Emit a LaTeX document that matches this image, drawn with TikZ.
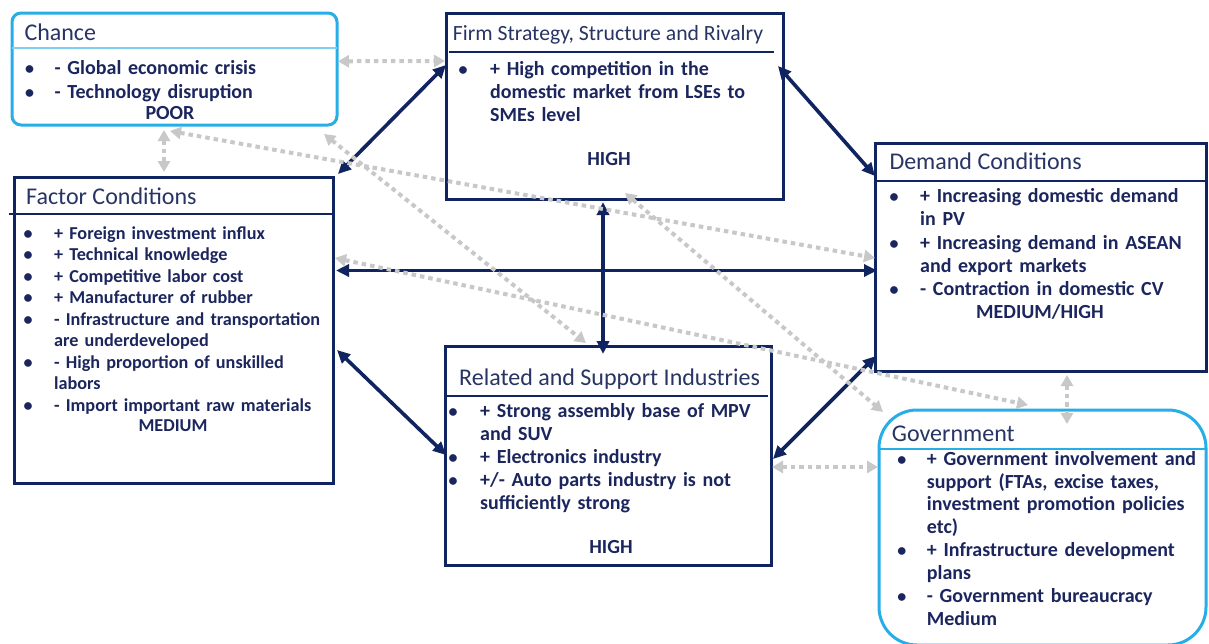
\documentclass[tikz,border=0pt]{standalone}
\usepackage{fontspec}
\setmainfont{Carlito}
\usetikzlibrary{arrows.meta,calc}

\definecolor{navy}{RGB}{16,36,96}
\definecolor{inkblue}{RGB}{28,38,94}
\definecolor{headblue}{RGB}{40,52,100}
\definecolor{sky}{RGB}{40,174,230}
\definecolor{palesky}{RGB}{125,208,242}
\definecolor{dotgray}{RGB}{200,200,200}

% bullet item with hanging indent; \bulind is the gap from bullet centre to text
\newlength\bulind
\newcommand\bul[1]{\par\noindent\hangindent=\bulind\hangafter=1
  \makebox[\bulind][l]{\makebox[0pt]{\fontsize{18}{18}\selectfont •}\rule{0pt}{16pt}}#1\par}

\tikzset{
  navybox/.style={draw=navy, line width=3pt, fill=white, outer sep=0pt, inner sep=0pt, anchor=north west},
  skybox/.style={draw=sky, line width=3pt, fill=white, outer sep=0pt, inner sep=0pt, anchor=north west},
  sepnavy/.style={draw=navy, line width=1.5pt},
  sepsky/.style={draw=sky, line width=1.5pt},
  seppale/.style={draw=palesky, line width=1.8pt},
  heading/.style={anchor=base west, inner sep=0pt, text=headblue, font=\fontsize{24}{28}\selectfont},
  bullets/.style={anchor=north west, inner sep=0pt, text width=330pt, align=left, text=inkblue,
    font=\bfseries\fontsize{20}{#1}\selectfont},
  grade/.style={anchor=base, inner sep=0pt, text=inkblue, font=\bfseries\fontsize{20}{24}\selectfont},
  bigarrow/.style={draw=navy, line width=3.6pt,
    {Triangle[length=13pt,width=12pt]}-{Triangle[length=13pt,width=12pt]}},
  dotarrow/.style={draw=dotgray, line width=4pt, dash pattern=on 4.5pt off 4pt,
    {Triangle[length=11pt,width=12pt]}-{Triangle[length=11pt,width=12pt]}}
}

\begin{document}
\begin{tikzpicture}[x=1pt,y=-1pt]
\useasboundingbox (0,0) rectangle (1209,643);
\clip (0,0) rectangle (1209,643);
\fill[white] (0,0) rectangle (1209,643);

% ---- boxes ----
\node[skybox, rounded corners=9pt, minimum width=325pt, minimum height=112pt] (chance) at (12,13) {};
\node[navybox, minimum width=337pt, minimum height=186pt] (firm) at (446,13) {};
\node[navybox, minimum width=331pt, minimum height=228pt] (demand) at (875,143) {};
\node[navybox, minimum width=319pt, minimum height=306pt] (factor) at (14,177) {};
\node[navybox, minimum width=326pt, minimum height=219pt] (related) at (445,346) {};
\node[skybox, rounded corners=38pt, minimum width=327pt, minimum height=235pt] (gov) at (879,410) {};

% ---- heading rules ----
\draw[seppale] ($(chance.north west)+(0,35)$) -- ($(chance.north east)+(0,35)$);
\draw[sepnavy] ($(firm.north west)+(3,39)$) -- ($(firm.north east)+(-9,39)$);
\draw[sepnavy] ($(demand.north west)+(0,38)$) -- ($(demand.north east)+(-1,38)$);
\draw[sepnavy] ($(factor.north west)+(-5,37)$) -- ($(factor.north east)+(0,37)$);
\draw[sepnavy] ($(related.north west)+(2,50)$) -- ($(related.north east)+(-3,50)$);
\draw[sepsky] ($(gov.north west)+(0,39)$) -- ($(gov.north east)+(0,39)$);

% ---- headings ----
\node[heading] (chance-title) at (24.3,40.7) {Chance};
\node[heading, font=\fontsize{21.7}{26}\selectfont] (firm-title) at (452.7,40.7) {Firm Strategy, Structure and Rivalry};
\node[heading] (demand-title) at (889.3,169.3) {Demand Conditions};
\node[heading] (factor-title) at (26,204.3) {Factor Conditions};
\node[heading] (related-title) at (459,385) {Related and Support Industries};
\node[heading] (gov-title) at (891.7,441) {Government};

% ---- lists ----
\node[bullets=24] (chance-list) at (29.5,50) {\setlength\bulind{25pt}%
  \bul{- Global economic crisis}\bul{- Technology disruption}};
\node[grade] (chance-grade) at (170,119) {POOR};

\node[bullets=22.7] (firm-list) at (463,53) {\setlength\bulind{27pt}%
  \bul{+ High competition in the\newline domestic market from LSEs to\newline SMEs level}};
\node[grade] (firm-grade) at (609,165) {HIGH};

\node[bullets=23.4] (demand-list) at (894,178.7) {\setlength\bulind{26pt}%
  \bul{+ Increasing domestic demand\newline in PV}%
  \bul{+ Increasing demand in ASEAN\newline and export markets}%
  \bul{- Contraction in domestic CV}};
\node[grade] (demand-grade) at (1040,318.3) {MEDIUM/HIGH};

\node[bullets=21.5, font=\bfseries\fontsize{18.2}{21.5}\selectfont] (factor-list) at (28,217.3) {\setlength\bulind{26pt}%
  \bul{+ Foreign investment influx}%
  \bul{+ Technical knowledge}%
  \bul{+ Competitive labor cost}%
  \bul{+ Manufacturer of rubber}%
  \bul{- Infrastructure and transportation\newline are underdeveloped}%
  \bul{- High proportion of unskilled\newline labors}%
  \bul{- Import important raw materials}};
\node[grade, font=\bfseries\fontsize{18.2}{21.5}\selectfont] (factor-grade) at (173,431.7) {MEDIUM};

\node[bullets=23] (related-list) at (453,394) {\setlength\bulind{27pt}%
  \bul{+ Strong assembly base of MPV\newline and SUV}%
  \bul{+ Electronics industry}%
  \bul{+/- Auto parts industry is not\newline sufficiently strong}};
\node[grade] (related-grade) at (611,553.3) {HIGH};

\node[bullets=22.9] (gov-list) at (901.7,442) {\setlength\bulind{25pt}%
  \bul{+ Government involvement and\newline support (FTAs, excise taxes,\newline investment promotion policies\newline etc)}%
  \bul{+ Infrastructure development\newline plans}%
  \bul{- Government bureaucracy\newline Medium}};

% ---- main two-way links ----
\draw[bigarrow] ([shift={(5,-3)}]factor.north east) -- ([shift={(0,52)}]firm.north west);
\draw[bigarrow] ([shift={(-5,53)}]firm.north east) -- ([shift={(0,33)}]demand.north west);
\draw[bigarrow] ([shift={(3,93.5)}]factor.north east) -- ([shift={(2,127.5)}]demand.north west);
\draw[bigarrow] ([shift={(-11.5,3)}]firm.south) -- ([shift={(-5,8)}]related.north);
\draw[bigarrow] ([shift={(4,173)}]factor.north east) -- ([shift={(1,109)}]related.north west);
\draw[bigarrow] ([shift={(2,113)}]related.north east) -- ([shift={(1,-15)}]demand.south west);

% ---- dotted influence links ----
\draw[dotarrow] ([shift={(1,48.3)}]chance.north east) -- ([shift={(-1,48)}]firm.north west);
\draw[dotarrow] ([shift={(152,5)}]chance.south west) -- ([shift={(150,-5)}]factor.north west);
\draw[dotarrow] ([shift={(158,6)}]chance.south west) -- ([shift={(0,115)}]demand.north west);
\draw[dotarrow] ([shift={(-13,9)}]chance.south east) -- ([shift={(141,-3)}]related.north west);
\draw[dotarrow] ([shift={(2,81)}]factor.north east) -- ([shift={(149,-5)}]gov.north west);
\draw[dotarrow] ([shift={(179,-6)}]firm.south west) -- ([shift={(4,2)}]gov.north west);
\draw[dotarrow] ([shift={(1,121)}]related.north east) -- ([shift={(-1,57)}]gov.north west);
\draw[dotarrow] ([shift={(-139,4)}]demand.south east) -- ([shift={(-139,14)}]gov.north east);
\end{tikzpicture}
\end{document}
